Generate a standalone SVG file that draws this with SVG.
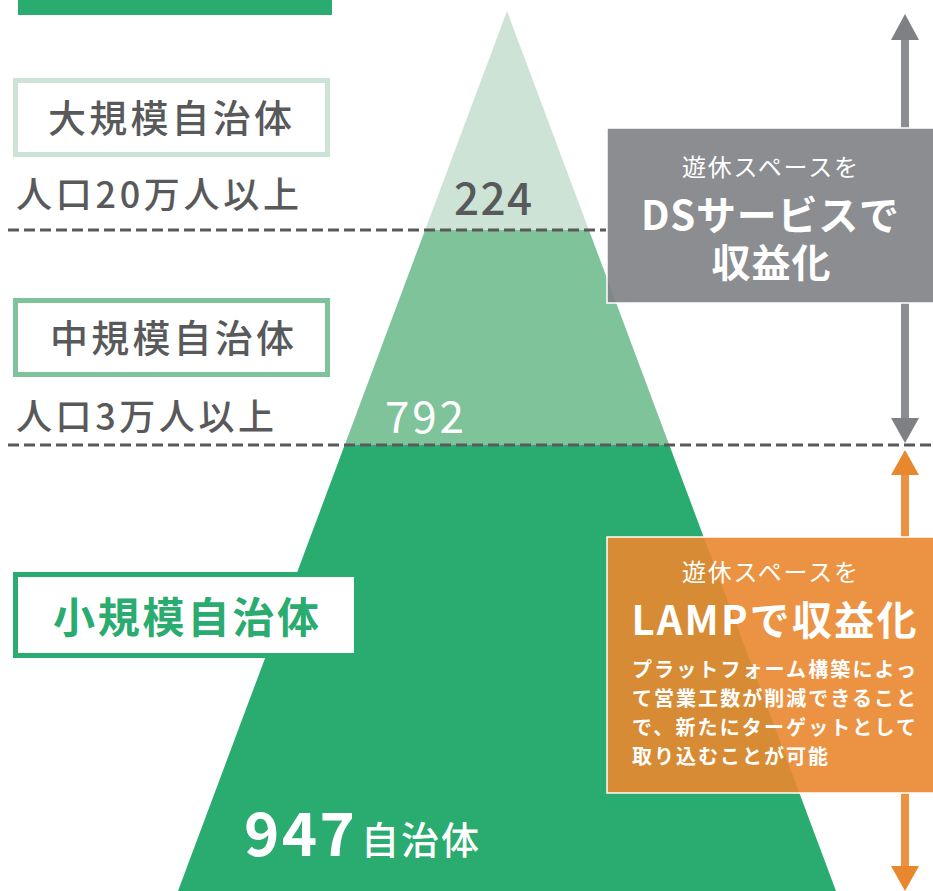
<svg xmlns="http://www.w3.org/2000/svg" width="933" height="891" viewBox="0 0 933 891">
<style>
  text { font-family: "Noto Sans CJK JP", "Noto Sans", sans-serif; }
  .lbl { fill: #58595B; font-weight: 500; }
  .w { fill: #FFFFFF; }
  .b { font-weight: 700; }
  .dash { stroke: #58595B; stroke-width: 3; stroke-dasharray: 11 5; fill: none; }
  .gshaft { fill: #808185; opacity: 0.9; }
  .ghead { fill: #7F8084; }
  .oshaft { fill: #E9872E; opacity: 0.9; }
  .ohead { fill: #E9872E; }
</style>
<rect x="0" y="0" width="933" height="891" fill="#FFFFFF"/>
<g id="top-bar"><rect x="18" y="0" width="314" height="15" fill="#2AAB6F"/></g>
<g id="pyramid">
  <polygon points="507,11 425.1,230 588.9,230" fill="#CDE3D6"/>
  <polygon points="425.1,230 588.9,230 669.3,445 344.7,445" fill="#7FC39A"/>
  <polygon points="344.7,445 669.3,445 836,891 178,891" fill="#2AAB6F"/>
  <text x="454" y="215" font-size="44" class="lbl" font-weight="400" textLength="78" lengthAdjust="spacing">224</text>
  <text x="385" y="433" font-size="44" class="w" textLength="79" lengthAdjust="spacing">792</text>
  <text x="244" y="856" font-size="60" class="w" font-weight="700" textLength="111" lengthAdjust="spacing">947</text>
  <text x="361" y="854" font-size="38" class="w" font-weight="500" textLength="118" lengthAdjust="spacing">自治体</text>
</g>
<g id="connectors">
  <line x1="8" y1="230" x2="606" y2="230" class="dash"/>
  <line x1="8" y1="445" x2="933" y2="445" class="dash"/>
  <rect x="901" y="38" width="8" height="90" class="gshaft"/>
  <polygon points="905,14 919,40 891,40" class="ghead"/>
  <rect x="901" y="303" width="8" height="117" class="gshaft"/>
  <polygon points="905,443 919,418 891,418" class="ghead"/>
  <rect x="901" y="473" width="8" height="64" class="oshaft"/>
  <polygon points="905,450 919,475 891,475" class="ohead"/>
  <rect x="901" y="793" width="8" height="75" class="oshaft"/>
  <polygon points="905,891 919,866 891,866" class="ohead"/>
</g>
<g id="large">
  <rect x="15.5" y="80.5" width="312" height="74" fill="#FFFFFF" stroke="#CDE3D6" stroke-width="5"/>
  <text x="48" y="132" font-size="38" class="lbl" textLength="244" lengthAdjust="spacing">大規模自治体</text>
  <text x="16" y="208" font-size="36" class="lbl" textLength="283" lengthAdjust="spacing">人口20万人以上</text>
</g>
<g id="medium">
  <rect x="15.5" y="300.5" width="312" height="74" fill="#FFFFFF" stroke="#7FC39A" stroke-width="5"/>
  <text x="50" y="352" font-size="38" class="lbl" textLength="244" lengthAdjust="spacing">中規模自治体</text>
  <text x="16" y="430" font-size="36" class="lbl" textLength="258" lengthAdjust="spacing">人口3万人以上</text>
</g>
<g id="small">
  <rect x="15.5" y="574.5" width="341" height="81" fill="#FFFFFF" stroke="#2AAB6F" stroke-width="5"/>
  <text x="53" y="633" font-size="42" fill="#2AAB6F" class="b" textLength="266" lengthAdjust="spacing">小規模自治体</text>
</g>
<g id="ds-box">
  <rect x="607" y="128" width="330" height="175" fill="#808185" fill-opacity="0.9" stroke="#FFFFFF" stroke-width="1.5"/>
  <text x="770" y="176" font-size="24" class="w" text-anchor="middle" textLength="176" lengthAdjust="spacing">遊休スペースを</text>
  <text x="770" y="230" font-size="40" class="w b" text-anchor="middle" textLength="258" lengthAdjust="spacing">DSサービスで</text>
  <text x="771" y="277" font-size="39" class="w b" text-anchor="middle" textLength="119" lengthAdjust="spacing">収益化</text>
</g>
<g id="lamp-box">
  <rect x="607" y="537" width="330" height="256" fill="#E9872E" fill-opacity="0.9" stroke="#FFFFFF" stroke-width="1.5"/>
  <text x="770" y="581" font-size="24" class="w" text-anchor="middle" textLength="176" lengthAdjust="spacing">遊休スペースを</text>
  <text x="774" y="635" font-size="40" class="w b" text-anchor="middle" textLength="285" lengthAdjust="spacing">LAMPで収益化</text>
  <text x="632" y="677" font-size="20" class="w b" textLength="284" lengthAdjust="spacing">プラットフォーム構築によっ</text>
  <text x="632" y="706" font-size="20" class="w b" textLength="284" lengthAdjust="spacing">て営業工数が削減できること</text>
  <text x="632" y="735" font-size="20" class="w b" textLength="284" lengthAdjust="spacing">で、新たにターゲットとして</text>
  <text x="632" y="764" font-size="20" class="w b" textLength="196" lengthAdjust="spacing">取り込むことが可能</text>
</g>
</svg>
